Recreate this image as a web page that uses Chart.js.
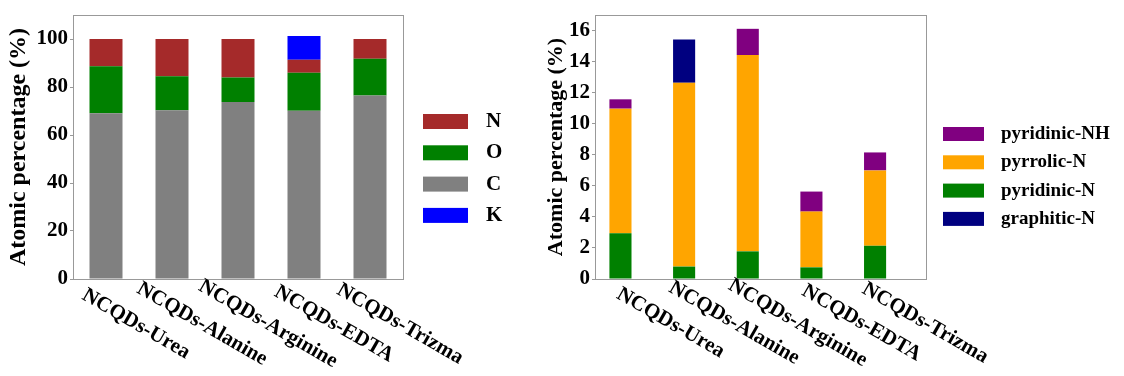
<!DOCTYPE html>
<html>
<head>
<meta charset="utf-8">
<title>NCQDs XPS composition</title>
<script src="https://cdn.jsdelivr.net/npm/chart.js@4.4.0/dist/chart.umd.min.js"></script>
<style>
  body { margin: 0; background: #fff; }
  #wrap { position: relative; width: 1124px; height: 376px; }
  #elements { position: absolute; left: 0; top: 0; }
  #species { position: absolute; left: 540px; top: 0; }
</style>
</head>
<body>
<div id="wrap">
  <canvas id="elements" width="540" height="376"></canvas>
  <canvas id="species" width="584" height="376"></canvas>
</div>
<script>
// Samples
const samples = ['NCQDs-Urea', 'NCQDs-Alanine', 'NCQDs-Arginine', 'NCQDs-EDTA', 'NCQDs-Trizma'];

// Elemental composition (at.%)
const carbon    = [69.1, 70.3, 73.8, 70.1, 76.5];
const oxygen    = [19.5, 14.2, 10.2, 15.8, 15.3];
const nitrogen  = [11.4, 15.5, 16.0, 5.5, 8.2];
const potassium = [0, 0, 0, 9.9, 0];
const elementTicks = [0, 20, 40, 60, 80, 100];

// Nitrogen species (at.%)
const pyridinicN  = [2.95, 0.80, 1.78, 0.75, 2.14];
const pyrrolicN   = [8.02, 11.84, 12.64, 3.59, 4.85];
const pyridinicNH = [0.60, 0, 1.69, 1.29, 1.16];
const graphiticN  = [0, 2.78, 0, 0, 0];
const speciesTicks = [0, 2, 4, 6, 8, 10, 12, 14, 16];

const SERIF = '"Liberation Serif", "Times New Roman", serif';

// box around the plot area
const framePlugin = {
    id: 'frame',
    afterDatasetsDraw(chart) {
        const { ctx, chartArea: a } = chart;
        ctx.save();
        ctx.strokeStyle = '#999';
        ctx.lineWidth = 1;
        ctx.strokeRect(Math.round(a.left) + 0.5, Math.round(a.top) + 0.5,
            Math.round(a.width), Math.round(a.height));
        ctx.restore();
    }
};

// slanted sample names under the bars
const sampleLabels = {
    id: 'sampleLabels',
    afterDraw(chart, args, opts) {
        const { ctx } = chart;
        const xScale = chart.scales.x;
        ctx.save();
        ctx.font = 'bold ' + opts.size + 'px ' + SERIF;
        ctx.fillStyle = '#000';
        ctx.textAlign = 'center';
        ctx.textBaseline = 'middle';
        samples.forEach((name, i) => {
            ctx.save();
            ctx.translate(xScale.getPixelForValue(i) + opts.dx, opts.y);
            ctx.rotate(Math.PI / 6);
            ctx.fillText(name, 0, 0);
            ctx.restore();
        });
        ctx.restore();
    }
};

// legend to the right of the frame
const sideLegend = {
    id: 'sideLegend',
    afterDraw(chart, args, opts) {
        const { ctx, chartArea } = chart;
        const x0 = chartArea.right + opts.left;
        ctx.save();
        ctx.font = 'bold ' + opts.size + 'px ' + SERIF;
        ctx.textBaseline = 'middle';
        opts.order.forEach((label, i) => {
            const ds = chart.data.datasets.find(d => d.label === label);
            const y = opts.top + i * opts.step;
            ctx.fillStyle = ds.backgroundColor;
            ctx.fillRect(x0, y - opts.boxH / 2, opts.boxW, opts.boxH);
            ctx.fillStyle = '#000';
            ctx.fillText(label, x0 + opts.boxW + opts.gap, y);
        });
        ctx.restore();
    }
};

function yAxis(max, tickValues, width, titleSize, titlePad) {
    return {
        stacked: true,
        min: 0,
        max: max,
        afterBuildTicks: s => { s.ticks = tickValues.map(v => ({ value: v })); },
        afterFit: s => { s.width = width; },
        grid: { drawOnChartArea: false, tickLength: 3, color: '#999' },
        border: { display: false },
        ticks: { color: '#000', padding: 2, font: { family: SERIF, size: 21, weight: 'bold' } },
        title: {
            display: true,
            text: 'Atomic percentage (%)',
            color: '#000',
            padding: { top: titlePad, bottom: 0 },
            font: { family: SERIF, size: titleSize, weight: 'bold' }
        }
    };
}

// Left: C / O / N / K
new Chart(document.getElementById('elements'), {
    type: 'bar',
    data: {
        labels: samples,
        datasets: [
            { label: 'C', data: carbon, backgroundColor: '#808080' },
            { label: 'O', data: oxygen, backgroundColor: '#008000' },
            { label: 'N', data: nitrogen, backgroundColor: '#a52a2a' },
            { label: 'K', data: potassium, backgroundColor: '#0000ff' }
        ]
    },
    options: {
        responsive: false,
        animation: false,
        layout: { padding: { top: 15, right: 137, left: 0, bottom: 0 } },
        datasets: { bar: { barPercentage: 0.5, categoryPercentage: 1 } },
        scales: {
            x: {
                stacked: true,
                grid: { display: false },
                border: { display: false },
                ticks: { display: false },
                afterFit: s => { s.height = 97; }
            },
            y: yAxis(110, elementTicks, 73, 24, 4)
        },
        plugins: {
            legend: { display: false },
            tooltip: { enabled: false },
            sampleLabels: { size: 21, dx: 30, y: 324 },
            sideLegend: { order: ['N', 'O', 'C', 'K'], left: 20, top: 121.5, step: 31.3,
                          boxW: 45, boxH: 15, gap: 18, size: 21 }
        }
    },
    plugins: [framePlugin, sampleLabels, sideLegend]
});

// Right: nitrogen species
const xy = arr => arr.map((v, i) => ({ x: i, y: v }));

new Chart(document.getElementById('species'), {
    type: 'bar',
    data: {
        datasets: [
            { label: 'pyridinic-N', data: xy(pyridinicN), backgroundColor: '#008000' },
            { label: 'pyrrolic-N', data: xy(pyrrolicN), backgroundColor: '#ffa500' },
            { label: 'pyridinic-NH', data: xy(pyridinicNH), backgroundColor: '#800080' },
            { label: 'graphitic-N', data: xy(graphiticN), backgroundColor: '#000080' }
        ]
    },
    options: {
        responsive: false,
        animation: false,
        layout: { padding: { top: 15, right: 198, left: 0, bottom: 0 } },
        datasets: { bar: { barPercentage: 0.347, categoryPercentage: 1 } },
        scales: {
            x: {
                type: 'linear',
                stacked: true,
                offset: false,
                min: -0.4,
                max: 4.8,
                afterBuildTicks: s => { s.ticks = samples.map((_, i) => ({ value: i })); },
                grid: { display: false },
                border: { display: false },
                ticks: { display: false },
                afterFit: s => { s.height = 97; }
            },
            y: yAxis(17, speciesTicks, 55, 22, 3)
        },
        plugins: {
            legend: { display: false },
            tooltip: { enabled: false },
            sampleLabels: { size: 21, dx: 50, y: 323 },
            sideLegend: { order: ['pyridinic-NH', 'pyrrolic-N', 'pyridinic-N', 'graphitic-N'],
                          left: 17, top: 134, step: 28.3, boxW: 41, boxH: 14, gap: 17, size: 19 }
        }
    },
    plugins: [framePlugin, sampleLabels, sideLegend]
});
</script>
</body>
</html>
